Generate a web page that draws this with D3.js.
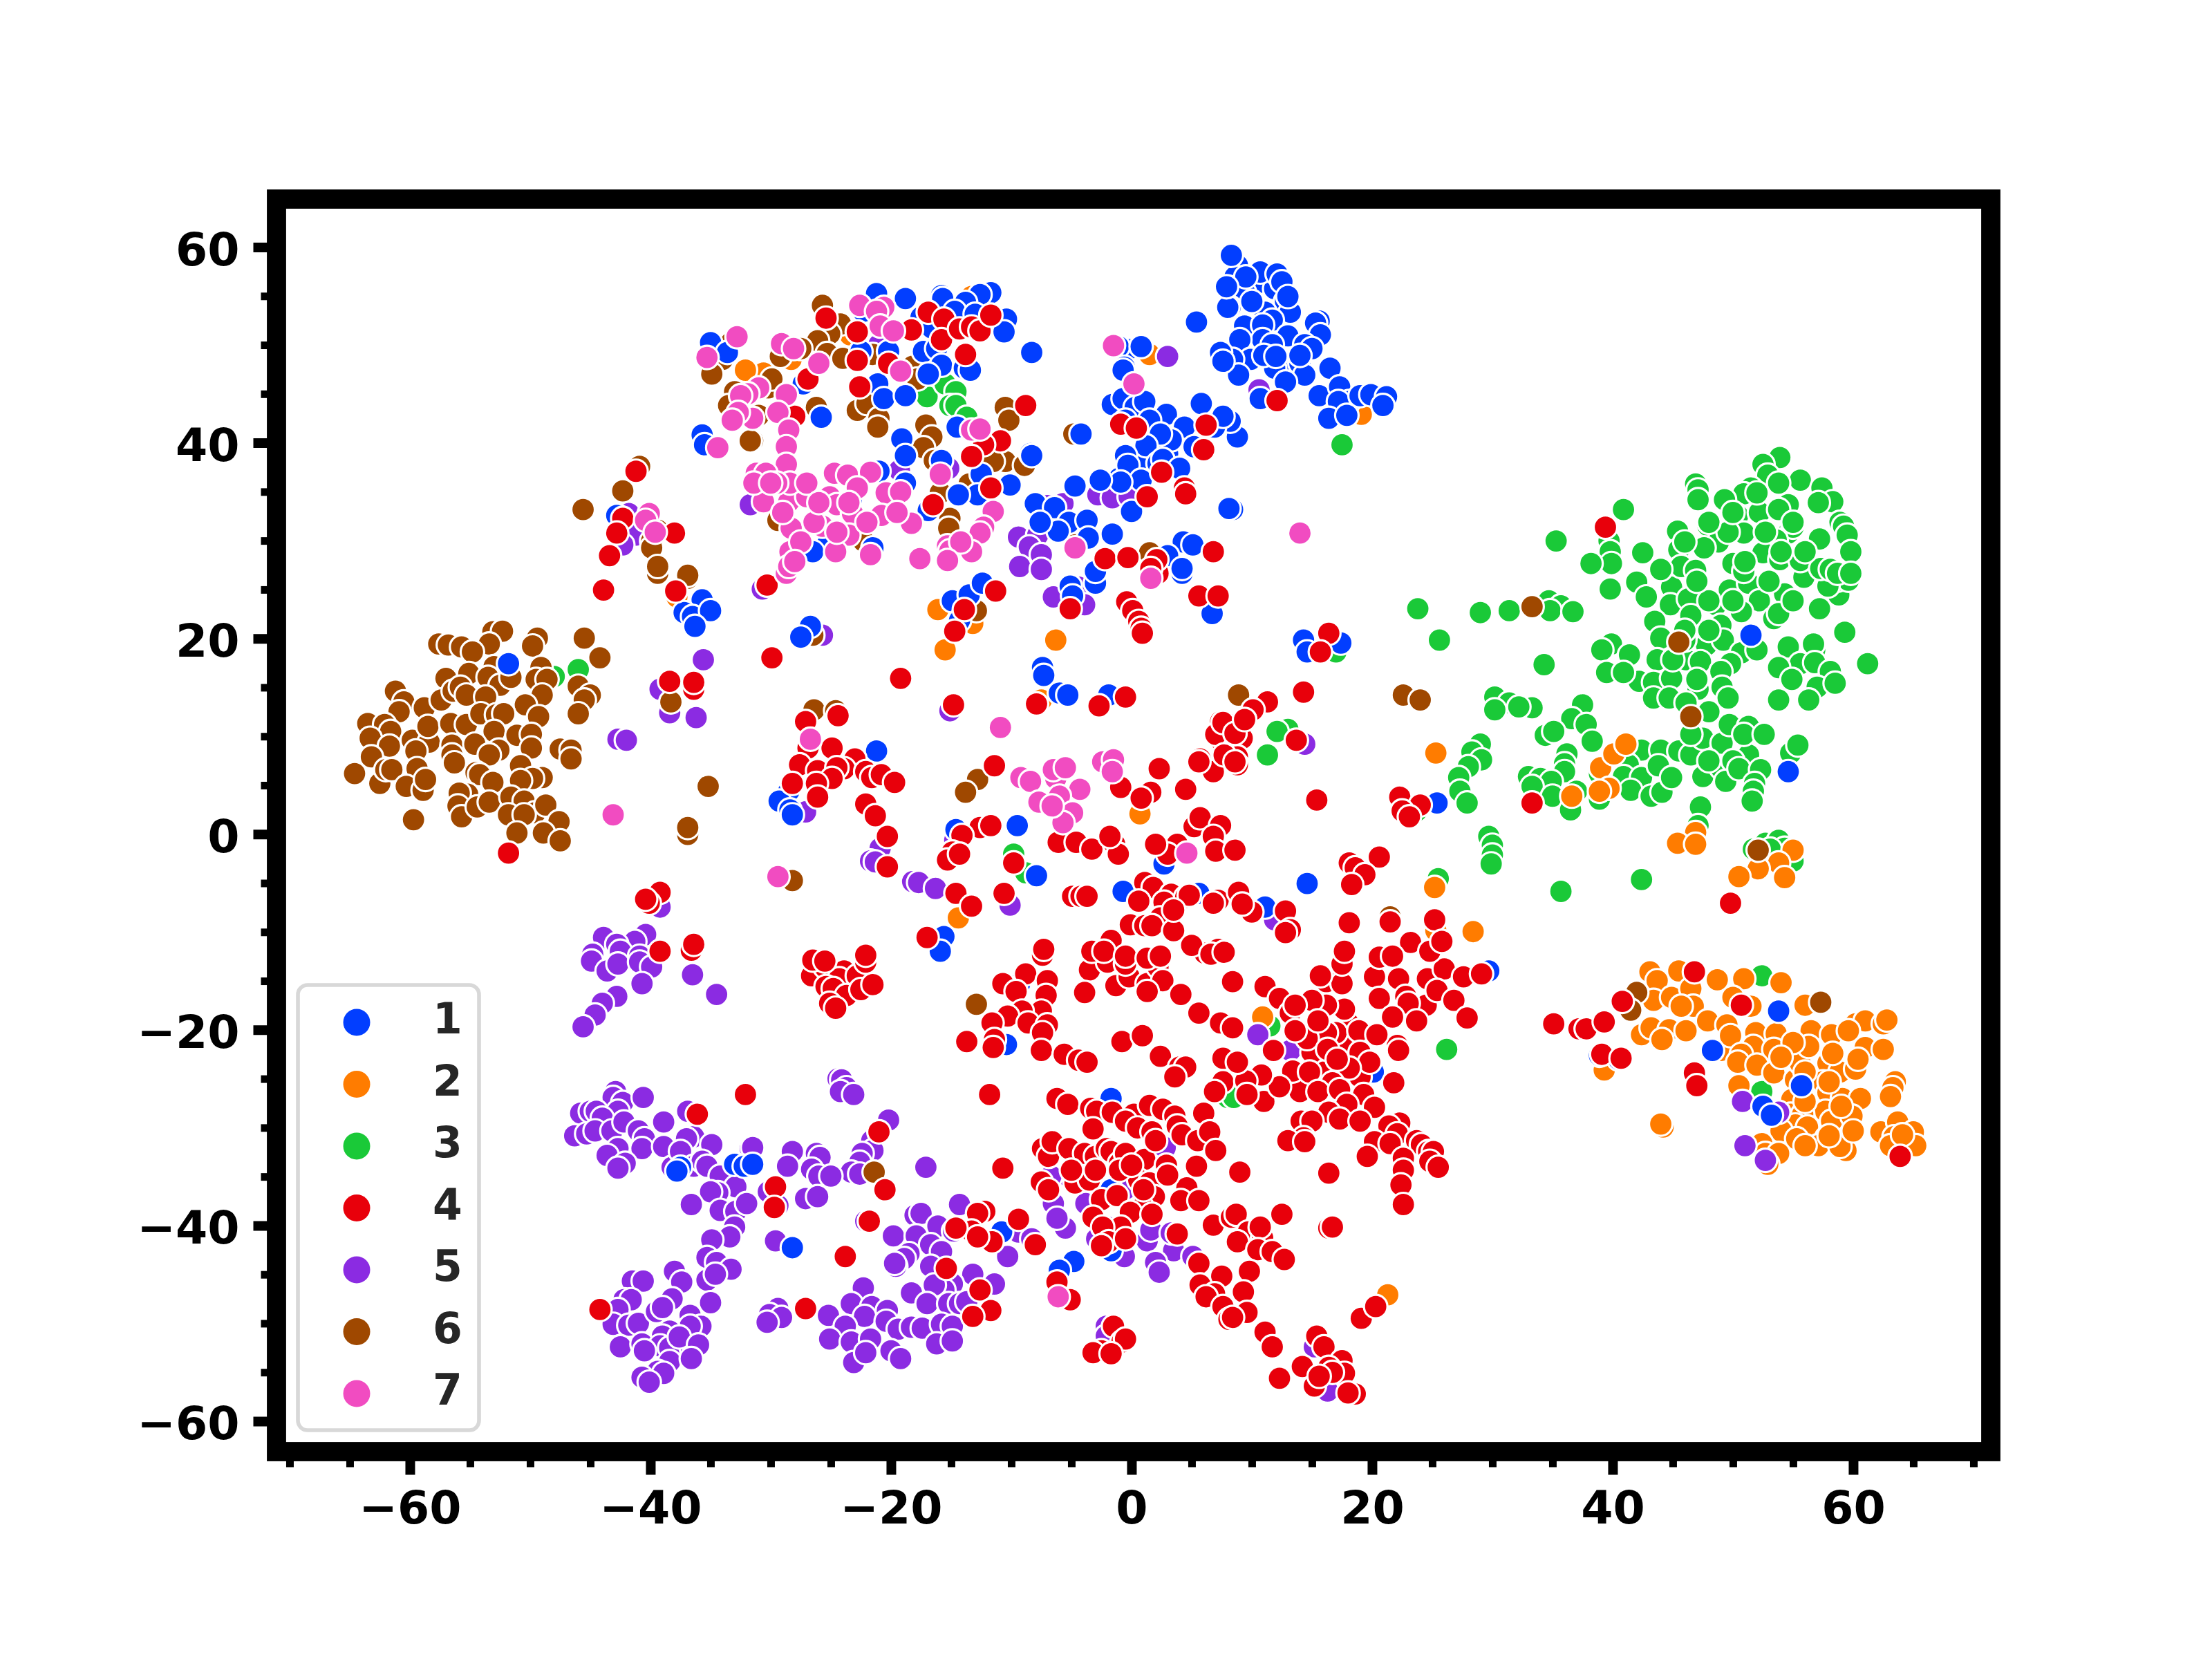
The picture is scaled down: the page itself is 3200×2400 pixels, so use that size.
<!DOCTYPE html>
<html>
<head>
<meta charset="utf-8">
<script src="https://cdnjs.cloudflare.com/ajax/libs/d3/7.8.5/d3.min.js"></script>
<style>
html, body { margin: 0; background: #fff; }
text { font-family: "DejaVu Sans", sans-serif; font-weight: bold; }
</style>
</head>
<body>
<div id="chart"></div>
<script>
const labels = ["1", "2", "3", "4", "5", "6", "7"];
const colors = ["#023eff", "#ff7c00", "#1ac938", "#e8000b", "#8b2be2", "#9f4800", "#f14cc1"];
const xTicks = [-60, -40, -20, 0, 20, 40, 60];
const yTicks = [-60, -40, -20, 0, 20, 40, 60];
const xMinor = d3.range(-70, 71, 5).filter(d => d % 20 !== 0);
const yMinor = d3.range(-60, 61, 5).filter(d => d % 20 !== 0);

const s1 = [[-51.8,17.6],[-35.7,24.1],[-37.2,22.8],[-36.5,22.4],[-35,23],[-36.3,21.4],[-33,-33.4],[-32.2,-33.6],[-37.5,-33.7],[-37.8,-34.1],[-31.5,-33.4],[-28.2,-41.9],[-10.8,-40.3],[-4.8,-43.3],[-6,-44.2],[-9.3,-15],[-10.4,-21.2],[-1.7,-26.7],[-1.7,-36],[-1.7,-42.2],[29.7,-13.7],[20.1,-24],[38.9,-22.3],[40.5,-22.7],[48.3,-21.8],[53.8,-17.8],[52.5,-27.5],[53.2,-28.4],[55.7,-25.4],
[-26.7,21.4],[-27.5,20.3],[-14.9,24],[-13.5,24.6],[-12.4,25.8],[-14.3,22],[-5.1,25.5],[-4.9,24.5],[-3,25.8],[-7.4,17.2],[-7.3,16.4],[-6,14.6],[-5.3,14.4],[-1.9,14.4],[-21.2,8.7],[-28.5,4.6],[-29.3,3.6],[-28.4,2.7],[-28.2,2.2],[-14.6,0.7],[-9.5,1.1],[-7.9,-4],[-0.7,-5.6],[5.6,-5.8],[2.7,-2.8],[6.7,22.7],[4.2,26.8],[-15.6,-10.2],[-15.9,-11.7],
[14.3,20],[14.6,18.8],[17.4,19.7],[25.4,3.4],[14.6,-4.8],[11.1,-7.2],[51.5,20.5],[54.6,6.6],
[8.4,59.1],[8.8,58.2],[8.6,57],[10.5,56.4],[11.9,55.8],[10.7,57.5],[12.1,57.3],[12.5,56.5],[8.2,55.9],[9.4,55.4],[12.8,54.5],[11.1,53.4],[13.2,53.4],[8.2,53.9],[9.4,52],[11.7,52.6],[10.9,52.1],[15.6,52.5],[15.3,52.3],[15.7,51.1],[13,51],[10.9,50.6],[9,50.6],[11.7,50.1],[14.4,50.1],[15,49.7],[9.9,48.6],[12.5,48.3],[11.9,47.7],[8.4,48.6],[8.9,47],[14,48.2],[16.5,47.7],[14.4,47],[12.8,46.3],[10.7,44.6],[15.6,44.9],[17.3,45.8],[18.1,44.3],[17.2,44.3],[19,44.9],[16.4,42.6],[17.9,42.9],[19.9,45],[21.2,44.8],[20.9,43.9],[8.8,40.7],[8.2,42.3],[8.4,33.3],[10,54.5],[9.5,57],[13,55],[14,49],[11,49],[12,48.9],[-1,36.5],[3,39],[1,38],
[-21.2,55.3],[-18.8,54.8],[-15.8,55.1],[-15.7,54.8],[-11.7,55.4],[-12.6,55.2],[-13.8,54.4],[-14.7,53.5],[-13,53.2],[-17.5,52.9],[-22.3,53.5],[-10.4,52.7],[-10.6,51.4],[-16.6,51.8],[-8.3,49.3],[-17.3,49.4],[-16.2,49.7],[-15.8,48],[-13.9,47.7],[-13.4,47.5],[-22.5,49.4],[-20.2,49.4],[-16.9,47.1],[-27.3,46.1],[-21.1,46.1],[-20.6,44.6],[-18.8,44.9],[-25.8,42.7],[-14.5,41.7],[-19.1,40.5],[-18.8,38.8],[-15.8,38.3],[-8.4,39],[-8.3,38.8],[-4.2,41],[0,33.1],[-0.3,49.6],[-1.1,49.9],[0.8,49.9],[-0.6,47.8],[-0.7,47.5],[5.4,52.4],[7.4,49.3],[7.6,48.4],[8,53.9],[7.9,56],[8.3,59.2],[-1.6,44],[-0.7,44.6],[0.3,43.7],[1.1,44.3],[5.8,44.1],[-0.5,42.4],[2.9,43],[1.5,42.4],[4.4,41.7],[3.3,40.4],[5.2,39.7],[2.4,41],[1.2,39.8],[6.9,41.7],[7.6,42.8],[-0.5,38.8],[-0.3,37.8],[2.2,38],[2.6,38.4],[4,37.5],[0.8,36.3],[-0.9,36.1],[-2.6,36.3],[-4.7,35.7],[-8,33.9],[-6.4,33.5],[-5.2,32],[-6.1,31.1],[-3.7,32.2],[-3.6,30.4],[-1.6,30.8],[-7.6,32],[4.3,30],[5.1,29.7],[3,28.6],[4.2,27.3],[-3,27],[-12.5,36.9],[-10.1,35.8],[-12.8,34.8],[-14.4,34.8],[-16.9,33.2],[-21,37.2],[-18.8,36],[-23.3,34.3],[-25.3,29.7],[-26.5,29],[-21.5,29.4],[8.1,33.4],
[-35,50.3],[-33.6,49.3],[-35.7,40.9],[-35.5,39.9],[-42.8,32.7]];

const s2 = [[-37.8,24.4],[-16.1,23.1],[-13.2,21.7],[-15.5,19],[-6.3,20],[-7.5,13.9],[0.7,2.3],[-14.4,-8.3],[10.9,-18.4],[21.3,-46.7],[25.3,-9.6],[28.4,-9.7],[25.3,8.5],[36.6,4.1],[39,7],[40.1,8.4],[41.1,9.4],[39.7,4.9],[38.9,4.6],[46.9,0.4],[45.4,-0.7],[46.9,-0.8],[25.2,-5.2],[55,-1.4],[53.8,-2.7],[52.1,-3.3],[50.5,-4.1],[54.3,-4.2],[-23.4,51.1],[-32,47.5],[-30.6,47.2],[-28.3,48.6],[-13.3,55],[1.5,49.1],[-32.1,47.5],[19.1,43],
[39.5,-23],[39.3,-23.8],[44.2,-29.6],[44,-29.3],[43.1,-13.8],[45.5,-13.7],[48.7,-14.6],[50.9,-14.5],[54,-14.9],[43.7,-14.7],[43.4,-16.7],[44.9,-16.4],[46.5,-15.5],[46.7,-17.3],[45.7,-17.3],[50,-16.4],[51.5,-17.3],[56,-17.2],[42.4,-20.2],[43.2,-19.5],[44.7,-19.7],[44.1,-20.7],[46.1,-19.8],[47.9,-18.8],[49.5,-19.2],[49,-21.8],[49.8,-20.3],[51.9,-20],[53.6,-20.1],[51.7,-21.4],[53.4,-21.7],[50.7,-22.2],[50.4,-23],[52,-23.3],[53.4,-24.1],[50.5,-25.4],[55.2,-24.8],[55.6,-23.1],[56.5,-19.8],[58.2,-20.2],[56.3,-21.4],[57.9,-23.1],[58.9,-24],[60.2,-23.7],[60.2,-19.1],[61,-18.8],[59.6,-19.8],[62.5,-19.1],[62.8,-18.7],[61,-21.5],[62.5,-21.7],[60.4,-22.7],[58.3,-22.1],[57.5,-25],[57.9,-26.1],[59.1,-26.7],[60.6,-26.7],[54.9,-26.8],[54.8,-28.3],[57.7,-28],[58.2,-29],[59.9,-28.5],[55.8,-28.3],[55.2,-29.4],[56.2,-29.6],[54,-30],[57.8,-30.7],[55.3,-30.8],[57.1,-31.5],[59.4,-32],[58.9,-31.6],[63.5,-25],[63.3,-25.6],[63.1,-26.5],[62.3,-30.1],[63.7,-29.1],[63.4,-30.6],[65,-30.1],[65.2,-31.5],[63.1,-31.5],[64.1,-30.4],[52.4,-31.3],[52.7,-32.3],[53.8,-32.3],[52.9,-33.4],
[55,-21],[54,-22.5],[56,-24],[58,-25],[59,-27.5],[56,-27],[60,-30],[58,-30.5],[56,-31.5]];

const s3 = [[-48,16.3],[-46,17],[-9.8,-1.8],[-8.8,-3.7],[8,-26.6],[26.2,-21.7],[11.5,-19.3],[52.4,-14.2],[52.4,-26],[8.5,-26.6],[-17,44.8],[-15.5,46.1],[-14.6,45.3],[-15.1,43.9],[-14.6,43.9],[-13.7,42.7],[17.5,39.9],[17,18.8],[13,10.9],[12.1,10.7],[11.3,8.3],
[23.8,23.2],[25.6,20],[29,22.8],[31.4,23],[34.7,24],[35.7,23.5],[34.8,23],[36.7,22.9],[34.3,17.5],[39.8,25.2],[30.2,14.2],[31.4,13.6],[33.3,13.1],[30.2,12.9],[32.2,13.2],[37.5,13.4],[36.6,12],[37.8,11.4],[34.4,10.3],[35.1,10.7],[38.3,9.7],[29,9.4],[28.3,8.6],[29.1,7.8],[28,7.1],[27.2,6],[27.3,4.6],[27.9,3.4],[23.7,2.6],[36.2,8.4],[36,7.4],[36,6.6],[33,6.1],[34,5.9],[34.9,5.6],[33.3,5.1],[35,4.1],[37,4.6],[36.5,2.7],[38.9,6.4],[38.9,3.8],[42.4,8.8],[41.3,7.3],[40.9,6.1],[42.4,6],[41.5,4.7],[43.2,4.1],[44.1,4.5],[44,8.8],[43.8,7.2],[44.9,6],[45.5,8.7],[46.5,8.3],[47.5,10],[46.5,10.4],[49.1,9.5],[47.5,6.1],[49,7],[48,7.7],[51.3,8.3],[50,7.7],[49.4,5.6],[50.5,6.9],[52.3,6.8],[51.8,5.4],[51.7,4.6],[51.6,3.6],[49.7,11.4],[51.3,11.2],[50.9,10.4],[52.6,10.4],[54.8,8.5],[55.4,9.3],[47.3,3],[47.1,1.1],[42.4,-4.4],[35.7,-5.6],[29.7,0],[30,-0.9],[30,-1.9],[29.9,-2.8],[25.5,-4.3],[51.7,-1.3],[52.7,-0.7],[53.8,-0.4],[54.3,-1.2],[53.1,-1.3],[55,-2.5],
[42,25.9],[44.9,25.4],[42.8,24.4],[44.8,23.6],[46.3,24.2],[48.6,23.6],[49.7,25.1],[51.3,25.8],[54.3,24.7],[52.2,24],[50.7,22.9],[53.4,22.2],[53.8,22.7],[43.5,21.9],[46.5,22.5],[49,21.5],[44,20.2],[47.8,19.5],[49.2,20],[50.7,18.7],[49.8,17.6],[43.7,18],[46.1,18],[47.3,17.8],[39.9,19.6],[39.1,19],[41.4,18.5],[39.5,16.7],[42.2,15.8],[40.9,16.7],[43.4,15.7],[44.9,16.1],[47.1,15],[49,16.8],[49.1,15.2],[43.4,14.1],[44.7,14.1],[46.1,13.6],[48,12.7],[49.6,14.1],[53.8,13.9],[54.6,19.3],[56.8,19],[55.6,17.6],[53.8,17.2],[56.7,19.6],[54.9,16],[56.8,17.7],[58.1,16.8],[57,15.2],[58.5,15.6],[56.3,13.9],[59.3,20.8],[61.2,17.6],[55.9,26.4],[57.2,23.2],[58.8,24.6],[58.7,26.1],[59.6,26.1],[57.9,25.5],
[53.9,38.6],[52.5,37.9],[52.9,36.8],[55.6,36.3],[57.4,35.5],[53.8,36],[51.5,35.5],[50.9,34.9],[46.9,35.9],[47.1,35.3],[47.1,34.3],[49.3,34.3],[54.6,33.8],[58.3,34.1],[57.1,34],[50.4,32.7],[52.2,33],[53.8,33.3],[50.9,30.9],[54.6,30.9],[55,31.5],[47.9,31.7],[45.4,31.1],[40.9,33.3],[39.7,30.1],[35.3,30.1],[39.8,29],[39.9,27.8],[38.2,27.8],[42.5,28.9],[57.2,30.3],[58.9,32],[59.2,31.6],[59.5,30.7],[59.8,29],[48.8,30],[47.6,29.4],[45.5,29.2],[53.6,30.2],[52.5,28.9],[53.9,28.2],[55.6,28.1],[50,27.8],[45.7,27.5],[44,27.2],[46.9,27.1],[57.3,27.3],[58.1,27.2],[58.7,26.8],[59.8,26.8],[50.9,27],[49.6,31],[52.7,31],
[48,24],[50,24],[47,26],[51,28],[46,30],[48,32],[50,33],[52,35],[54,29],[56,29],[55,32],[53,26],[55,24],[48,21],[46,20],[47,16],[45,18],[46,21],[52,19]];

const s4 = [[-51.8,-1.7],[-43.9,25.1],[-37.9,25],[-38.4,15.8],[-36.4,15],[-36.4,15.7],[-39.2,-5.7],[-40.1,-6.8],[-40.4,-6.4],[-39.2,-11.7],[-36.6,-11.6],[-36.4,-11],[-36.1,-28.3],[-44.2,-48.2],[-32.1,-26.3],[-21,-30.1],[-20.5,-36],[-29.6,-35.7],[-29.7,-37.8],[-21.8,-39.2],[-23.8,-42.8],[-15.4,-44],[-12.6,-46.2],[-11.7,-48.3],[-13.2,-48.9],[-27.1,-48.1],[-8,-41.6],[-12.2,-38.2],[-12.8,-38.4],[-9.4,-39],[-13.3,-40.2],[-11.6,-41.3],[-14.6,-39.9],[-12.8,-40.8],[-11.8,-26.3],[-10.7,-33.8],[-6.2,-45.4],[-5.1,-47.2],
[-26.6,-14.2],[-25.5,-13.3],[-23.9,-13.7],[-24.3,-14.5],[-22.8,-14.2],[-22.1,-12.8],[-25.4,-15.3],[-24.8,-15.5],[-23.7,-16.2],[-22.5,-15.6],[-21.5,-15.1],[-25.1,-17],[-24.6,-17.5],
[-10.7,-15],[-8.8,-14],[-7,-14.7],[-9.6,-15.8],[-7.1,-16.2],[-7.5,-17.8],[-9.1,-17.8],[-10.3,-18.3],[-11.6,-19],[-8.6,-19],[-7,-19.2],[-7.4,-20],[-11.4,-20.7],[-13.7,-20.9],[-11.5,-21.5],[-7.5,-21.8],[-5.6,-22.2],[-4.4,-22.8],[-3.7,-23],[-3.5,-13.6],[-3.9,-15.9],[-2,-12.8],[-1.3,-15.2],[-0.2,-14.3],[1.3,-15],[-0.5,-13],[2.2,-13.3],[2.6,-14.7],[1.3,-15.8],[4.1,-16.1],[5.6,-18],[7.4,-19],[7.6,-22.6],[-0.8,-20.9],[0.9,-20.3],[2.4,-22.4],[4,-23.5],[4.5,-23.5],[3.6,-24.5],[7.6,-25],[6.9,-26],
[-6.2,-26.7],[-5.3,-27.3],[-3.4,-27.7],[-2.9,-28],[-1.6,-28.1],[-3.2,-29.8],[0.2,-28.3],[-0.5,-29],[0.5,-29.7],[1.7,-30.1],[1.5,-27.4],[2.6,-27.8],[3.6,-28.5],[6,-28.2],[3.8,-29.5],[4.2,-30.4],[5.5,-31],[6.5,-30.1],[7,-32],[-7.4,-31.8],[-6.9,-32.6],[-6.6,-31.1],[-5.2,-31.8],[-3.9,-32.3],[-3,-32.6],[-2.1,-31.8],[-1.7,-32.1],[-1,-33.3],[-0.5,-32.3],[1.1,-32.9],[2.9,-33.5],[5.4,-33.6],[-7.5,-35.2],[-6.9,-36],[-4.7,-35.3],[-3.5,-35],[-2.5,-37],[-1.2,-36.6],[0.6,-35],[1.5,-35.3],[1.9,-36.7],[4.6,-35.8],[4.1,-37.1],[5.6,-37.1],[0.9,-37.8],[-0.1,-38.3],[1.7,-38.5],[-3.2,-38.8],[-0.9,-39.8],[-2.4,-39.8],[-1.9,-41.3],[-0.5,-41],[-2.5,-41.7],[3.8,-40.5],[6.8,-39.6],[8.3,-38.8],[5.6,-43.5],[7.5,-44.8],[5.7,-45.7],[6.9,-46.6],[6.2,-46.9],[7.6,-47.9],[8.1,-49.2],[-1.5,-49.9],[-0.8,-51.5],[-0.5,-51.2],[-2.5,-52.4],[-3.2,-52.6],[-1.7,-52.7],
[-1,-34],[0,-33.5],[3,-34.5],[2,-31],[1,-36],[-3,-34],[-5,-34],[18,-21],[16,-24],[15,-22],[18,-19],[19,-24.5],[17,-20],[14,-26],[11,-27],
[11.1,-15.3],[12.3,-16.5],[13.2,-18],[8.4,-14.8],[16.2,-14.8],[17.5,-15],[15.7,-14.2],[17.5,-13],[20.2,-14.3],[22.2,-14.5],[24.6,-14.5],[26,-13.5],[27.6,-14.3],[29.1,-14],[20.6,-16.5],[22.8,-16.3],[24.5,-17.2],[25.4,-15.7],[23,-17],[26.8,-16.7],[27.9,-18.5],[21.7,-18.4],[23.7,-18.8],[17.7,-17.6],[16.2,-17.2],[15,-16.7],[13.6,-17.2],[22.1,-21.3],[22.2,-21.8],[18.9,-19.8],[20.4,-20.2],[16.2,-20],[14.6,-20.6],[13.6,-19.8],[15.5,-18.8],[11.8,-21.8],[8.4,-19.5],[19,-22],[19.8,-23],[18.1,-23.6],[21.8,-25.1],[13.4,-23.9],[14.8,-24],[16.3,-21.7],[17.1,-22.7],[12.3,-25.5],[10.8,-24.3],[9.5,-24.9],[8.8,-23],[9.6,-26.3],[16.7,-25.1],[15.5,-26],[17.3,-25.8],[19.3,-26.3],[20.2,-27.6],[17.9,-27.3],[16.4,-28.1],[17.3,-28.8],[19,-29],[14.1,-29],[15,-29],[14.3,-30.7],[13,-31],[14.4,-31.1],[22.3,-29.2],[21.4,-29.5],[22.1,-30.3],[20.2,-31.1],[21.5,-31.3],[23.7,-31],[24.1,-31.4],[24.7,-32.1],[25.1,-32.1],[19.6,-32.6],[22.6,-32.8],[24.8,-33.1],[25.5,-33.7],[22.6,-34],[22.4,-35.5],[22.6,-37.5],[9,-34.2],[16.4,-34.3],[16.4,-39.9],[16.7,-39.8],[12.5,-38.5],[8.7,-38.5],[9.7,-40.3],[10.9,-40.9],[10.7,-39.8],[8.8,-41.3],[10.5,-42.1],[11.7,-42.3],[12.7,-43.1],[9.8,-44.3],[9.3,-46.4],[9.6,-48.5],[8.4,-49],[11.1,-50.5],[11.7,-52],[12.3,-55.2],[15.4,-50.9],[16,-52],[17.5,-53.4],[14.2,-54],[16.4,-54.1],[17.7,-54.7],[15.2,-56],[16.7,-54.6],[18.6,-56.8],[18,-56.7],[15.6,-55],[19.1,-49.1],[20.3,-47.9],
[35.1,-19.1],[37.2,-19.6],[37.8,-19.6],[39.3,-18.9],[39.1,-22.2],[40.7,-22.6],[46.8,-24.1],[47,-25.4],[40.8,-16.8],[46.8,-13.8],[50.7,-17.2],[63.9,-32.6],
[-30.3,25.6],[-29.9,18.2],[-19.2,16.1],[-24.4,12.3],[-27.1,11.7],[-26.9,9],[-24.9,9],[-27.6,7.3],[-26.1,6.7],[-23,7.9],[-23.9,6.9],[-24.5,7],[-24.9,5.9],[-22.1,6.6],[-21.6,6],[-20.8,6.3],[-19.7,5.5],[-28.2,5.4],[-26.2,5.4],[-26.1,4],[-22.1,3.3],[-21.3,2.1],[-20.3,0],[-20.3,-3.1],[-14.8,13.4],[-7.9,13.5],[-0.5,14.2],[-2.7,13.3],[-11.4,7.2],[-0.9,5],[1.6,4.5],[0.8,3.9],[2.3,6.9],[4.5,4.8],[5.7,7.9],[6.8,6.6],[-11.3,25],[-13.9,23.1],[-14.7,20.9],[-5.1,23.2],[-0.4,23.9],[0.1,23],[0.6,21.9],[0.8,21.2],[0.9,20.7],[5.6,24.5],[7.2,24.5],[2.2,26.8],[7.4,11.7],[7.5,9.7],[7,10.4],[-6.1,-0.6],[-4.6,-0.6],[-3.3,-1.3],[-1.4,-0.8],[-1.1,-1.8],[-1.8,0],[-12.6,0.9],[-11.7,1.1],[-14.1,0.1],[-14.9,-1.6],[-15.3,-2.4],[-14.3,-1.8],[-9.8,-2.7],[-14.6,-5.8],[-13.3,-7.1],[-10.6,-5.8],[-4.9,-6.1],[-4.2,-6.1],[-3.7,-6.1],[1.1,-4.7],[1.8,-5.2],[3.3,-5.9],[0.6,-6.6],[2.7,-6.7],[4.5,-6.2],[7.2,-6.5],[2.4,-8.3],[-0.1,-9],[1.1,-9.1],[1.7,-9.1],[3.5,-9.6],[-1.7,-10.6],[-3.3,-11.7],[-2.3,-11.7],[-0.5,-12.2],[1.3,-12.4],[2.4,-12.2],[-7.4,-12.1],[-7.3,-11.5],[6.1,-11.9],[7.2,-11.5],[-17,-10.3],[-22.1,-12.1],[-26.5,-12.6],[-25.5,-12.7],[5.2,1],[5.7,1.9],[3.8,-0.8],[3,-1.8],[2,-0.8],[7.4,1.1],[6.8,0],[7,-1.5],
[14.3,14.7],[11.3,13.7],[10.1,12.9],[9.4,11.9],[9.2,10],[8.6,11.4],[8.8,8.1],[8.8,7.3],[13.7,9.8],[15.4,3.7],[8.6,-1.4],[20.6,-2.1],[18.1,-2.7],[18.6,-3.2],[19.4,-3.9],[18.3,-4.9],[8.9,-5.7],[10,-7.7],[9.2,-6.9],[12.8,-7.6],[13.2,-9.5],[12.8,-9.8],[18.1,-8.8],[21.5,-8.7],[25.2,-8.5],[23.2,-10.8],[24.8,-11.7],[25.8,-10.7],[17.7,-11.7],[20.6,-12.3],[21.7,-12.2],[16.4,20.7],[15.7,18.8],[22.3,4],[24,3.2],[22.5,2.6],[23.1,2],[33.3,3.4],[49.8,-6.8],
[7.6,11.6],[8.6,10.5],[5.6,7.6],[7.7,8.3],[8.6,7.6],[9.4,11.9],[4.8,-6],[6.8,-6.8],[3.5,-7.5],[5,-11.1],[6.6,-12],[7.7,-11.8],
[-25.4,52.8],[-22.8,51.4],[-16.9,53.4],[-18.3,51.6],[-15.6,52.7],[-15.8,50.6],[-14.3,51.7],[-13.3,51.9],[-12.6,51.5],[-11.7,53.1],[-13.8,49.1],[-22.6,45.8],[-22.8,48.5],[-26.9,46.6],[-28,42.8],[-20.2,48.2],[-8.8,43.9],[-10.9,40.3],[-12.3,39.9],[-13.3,38.7],[-16.5,33.8],[-11.7,35.5],[-0.9,42],[0.4,41.6],[6.2,41.9],[6,39.4],[2.5,37.1],[4.4,35.5],[4.5,34.9],[1.3,34.6],[-2.2,28.3],[-0.3,28.4],[2.1,28.2],[6.8,29],[1.6,27.3],[12.1,44.4],[39.4,31.5],
[-41.2,37.2],[-42.3,32.4],[-42.8,30.9],[-38,30.9],[-43.4,28.6]];

const s5 = [[-35.6,18],[-39.2,15],[-38.4,12.6],[-36.2,12.1],[-42.7,9.9],[-42,9.8],[-39.2,-7.2],[-43.9,-10.3],[-40.4,-10],[-41.3,-10.7],[-44.8,-12],[-42.8,-11],[-42.5,-11.7],[-40.9,-12.2],
[-44.9,-12.7],[-43.6,-13.7],[-42.7,-13],[-40.9,-12.8],[-39.9,-13.3],[-40.7,-15],[-42.8,-16.3],[-44,-17],[-44.6,-18.2],[-45.6,-19.4],[-36.5,-14.1],[-34.5,-16.1],
[-42.9,-26],[-43.1,-26.6],[-42.3,-27.1],[-40.6,-26.6],[-45.8,-28.2],[-45,-28],[-44.5,-28],[-42.7,-28],[-44,-28.7],[-46.3,-30.5],[-45.3,-30.3],[-44.6,-30],[-43.2,-30],[-42.2,-29.1],[-41,-30],[-40.5,-30.8],[-40.7,-31.8],[-42.7,-31.8],[-43.6,-32.5],[-42.1,-33.3],[-42.7,-33.8],[-38.9,-29.1],[-38.9,-31.6],[-36.9,-28],[-38.2,-33.7],[-36.4,-30.6],[-37,-30.8],[-34.9,-31.4],[-37.5,-32.1],[-36.4,-33.6],[-35.7,-33.1],[-35.3,-33.6],[-31.7,-31.8],[-34.2,-34.6],[-32.9,-35.7],[-34.4,-36.3],[-35,-36.2],[-36.6,-37.5],[-34.2,-38.1],[-32.9,-38.2],[-33,-39.8],[-33.4,-40.8],[-34.9,-41.1],[-35.3,-42.9],[-34.5,-43.4],[-33.3,-44.1],[-35.3,-45.2],[-34.6,-44.6],[-35,-47.5],
[-41.5,-45.3],[-40.6,-45.3],[-38,-44.3],[-37.4,-45.4],[-38.2,-47.1],[-42.2,-47.2],[-41.6,-47.2],[-42.7,-48.2],[-43.1,-49.7],[-41.8,-49.8],[-41,-49.6],[-39.5,-48.4],[-39,-48],[-36.7,-48.8],[-35.8,-49.9],[-36.7,-49.9],[-38.4,-50.4],[-39,-50.9],[-42.5,-52],[-40.7,-51.7],[-39.2,-51.9],[-38.4,-52.1],[-36.6,-52.1],[-37.6,-51],[-36,-51.8],[-40.5,-52.4],[-38.4,-53.5],[-36.6,-53.2],[-39.4,-54.5],[-40.7,-55.1],[-38.9,-54.7],[-40.1,-55.6],
[-24.4,-24.7],[-24.1,-24.8],[-23.7,-25.6],[-24.2,-26],[-23.1,-26.3],[-20.2,-28.9],[-21.6,-31],[-21.5,-32],[-22.4,-32.3],[-22.6,-33.2],[-23.3,-34.2],[-22.6,-34.4],[-17.1,-33.7],[-31.5,-31.7],[-28.2,-32.1],[-26.2,-32.3],[-25.9,-32.7],[-28.6,-33.6],[-26.6,-33.9],[-26,-34.6],[-25,-34.6],[-27.1,-36.9],[-26.1,-36.7],[-30.2,-36.2],[-29.4,-37.6],[-32,-37.4],[-29.6,-41.2],[-22.1,-39.2],
[-14.3,-37.5],[-18,-38.6],[-17.5,-38.4],[-16.1,-39.7],[-14.8,-40.2],[-19.8,-40.7],[-17.9,-40.7],[-16.7,-41.6],[-15.8,-42.3],[-18.5,-42.5],[-18.9,-43],[-19.6,-43.8],[-19.7,-43.5],[-16.7,-43.8],[-13.2,-44.6],[-11.4,-45.6],[-14.9,-45.6],[-15.6,-46.2],[-16.4,-45.7],[-18.3,-46.5],[-17,-47.6],[-15.2,-47.6],[-14.3,-47.6],[-13.7,-47.4],
[-22.3,-46],[-23.3,-47.6],[-21.6,-47.9],[-20.3,-48.3],[-22.2,-48.9],[-25.2,-48.8],[-20.4,-49.4],[-23.8,-49.9],[-19.4,-50.2],[-18.3,-50],[-17.4,-50.1],[-15.8,-49.7],[-14.9,-49.9],[-25.1,-51.2],[-23.3,-51.5],[-21.7,-51.2],[-20,-52.4],[-19.2,-53.2],[-16.2,-51.7],[-14.9,-51.4],[-23.1,-53.6],[-22.1,-52.6],[-29.4,-48.1],[-30.1,-48.7],[-29.1,-49],[-30.3,-49.5],
[-6.5,-37.4],[-5.5,-39.9],[-6.2,-38.9],[-5.1,-34.8],[-6.7,-34.6],[-3.8,-37.4],[-0.6,-42.8],[2.8,-31.7],[1.3,-41.2],[3.5,-42.2],[2,-43.4],[2.3,-44.4],[5.1,-42.8],[-2,-39.8],[-2.9,-41],[-0.5,-35.9],[1.6,-40.1],[3.3,-40.4],[-2.1,-49.9],[-2.1,-50.9],[-9.4,-40.3],[-8.3,-41],[-10.3,-42.8],[16.3,-56.5],[15.2,-52],[10.5,-20.2],[13.2,-21.8],[50.8,-27],[53.8,-28.1],[51,-31.5],[52.7,-33],
[-30.7,25.2],[-25.7,20.5],[-27.1,2.5],[-20.9,-1.2],[-21.7,-2.5],[-21.3,-2.6],[-15.1,12.8],[-14.7,-0.4],[-18.2,-4.6],[-17.7,-4.7],[-16.3,-5.3],[-10.1,-7],[-4.4,25.4],[-6.5,24.4],[-3.9,23.6],[14.4,9.4],[11.9,-8.5],
[-21,50.1],[-19.3,37.3],[-15.2,37.5],[3,48.9],[-5.7,33.9],[-7,33.7],[-2.8,34.8],[-1.6,34.5],[-0.2,34.6],[-31.6,34],[-9.4,30.5],[-7.8,30.7],[-8.5,29.5],[-7.5,28.7],[-9.3,27.5],[-7.5,27.2],[10.6,45.5],[-41.8,32.9],[-41.2,30.7],[-42.3,29.7],[-31.7,33.8]];

const s6 = [[-53.1,20.85],[-52.3,20.9],[-53.4,19.6],[-49.4,20.2],[-49.8,19.4],[-57.6,19.6],[-56.8,19.5],[-55.7,19.3],[-54.8,18.8],[-45.5,20.2],[-44.2,18.2],[-57,16.1],[-55.1,16.6],[-53,17.3],[-53.5,16.2],[-52.5,15.4],[-51.6,16.2],[-49.1,17.2],[-49.5,16],[-48.6,16],[-49,14.4],[-61.2,14.8],[-60.5,13.7],[-60.9,12.7],[-58.8,13.1],[-57.4,13.9],[-56.4,14.8],[-55.8,15.2],[-55.3,14.4],[-53.7,14.2],[-50.4,13.4],[-49.3,12.2],[-46,15.3],[-45,14.4],[-45.5,13.9],[-46,12.5],[-63.5,11.5],[-62.1,11.4],[-61.6,10.7],[-63.3,10],[-61.7,9.2],[-59.8,9.8],[-58.4,9.6],[-58.5,11.2],[-56.6,11.5],[-55.3,11.4],[-54.1,12.5],[-52.8,12.4],[-52.2,12.5],[-53,10.7],[-51.1,10.3],[-49.9,10.4],[-49.9,9],[-56.5,9.3],[-54.6,9.4],[-56.5,8.3],[-56.3,7.5],[-52.6,8.8],[-53.4,8.3],[-59.5,8.7],[-63.2,8.1],[-64.6,6.4],[-62.5,5.4],[-62,6.8],[-61.5,6.8],[-59.4,6.9],[-60.3,5.1],[-58.9,4.7],[-58.7,5.8],[-50.8,7.2],[-49,6],[-49.8,5.9],[-50.8,5.7],[-54.5,6.5],[-54.2,6.3],[-53.1,5.5],[-55.2,4.3],[-55.9,4.4],[-56,3.1],[-55.7,2],[-54.4,3],[-53.4,3.5],[-51.6,4],[-50.5,3.6],[-49.6,2.4],[-51.8,2.2],[-50.5,2.2],[-48.7,3.2],[-47.6,1.5],[-48.9,0.35],[-51.1,0.35],[-47.5,-0.45],[-59.7,1.7],[-47.5,8.9],[-46.6,8.8],[-46.6,7.9],
[-36.9,26.3],[-39.4,26.8],[-38.3,13.7],[-35.2,5.1],[-36.9,0.2],[-36.9,0.9],[-21.4,-34.2],[-12.9,-17.1],[42,-15.9],[41.5,-17.7],[57.3,-16.9],[-26.5,20.5],[-26.4,12.9],[-24.6,12.8],[-12.9,23],[-12.8,5.8],[-13.8,4.5],[-28.2,-4.5],[8.9,14.4],[21.5,-8.2],[22.6,14.4],[24,13.9],[33.3,23.4],[45.5,19.8],[46.5,12.2],[52.1,-1.4],
[-25.7,54.1],[-25.4,52.7],[-24.2,52.2],[-25.1,51.2],[-26.1,50.5],[-25.3,49.2],[-24,48.7],[-21.5,49.1],[-27.5,49.7],[-29.2,48.9],[-30.2,45.7],[-29.9,46.6],[-26.2,43.7],[-22.8,43.4],[-21.7,45.6],[-22,44.1],[-21,42.6],[-21.1,41.7],[-18.2,47.9],[-17.8,46.6],[-17.1,41.9],[-16.6,40.7],[-17.3,39.6],[-16.4,38.3],[-10.5,43.7],[-10.2,42.4],[-10.5,38.2],[-11.5,38.2],[-8.9,37.8],[-4.8,41],[-31.5,40.3],[-15.9,35],[-15.1,32.4],[-15.2,31.4],[-29.4,32.2],[-22.3,30.1],[-13.5,35.9],[-31,42.9],[-4.7,29.7],[1.5,28.9],
[-33.3,50.3],[-34,48.6],[-34.9,47.1],[-33,45.3],[-33.5,43.9],[-31.7,40.3],[-40.9,37.7],[-42.3,35.2],[-45.6,33.3],[-39.4,31.2],[-39.9,30.1],[-39.9,29.4],[-39.4,27.5],[-36.9,26.6]];

const s7 = [[-43.1,2.2],[-29.4,-4.1],[-6.1,-46.9],[14,30.9],[-26.7,9.9],[-10.9,11.1],[-9.2,6],[-8.4,5.6],[-7.7,3.5],[-6.3,5.9],[-6.5,6.8],[-5.5,7],[-4.3,4.8],[-6,4.1],[-4.9,2.4],[-5.7,1.4],[-6.6,3.1],[-2.4,7.6],[-1.5,7.8],[-1.6,6.6],[-28.7,26.8],[1.6,26.3],[4.6,-1.7],
[-22.6,54.1],[-20.6,53.9],[-21.2,53.5],[-20.9,52],[-19.8,51.5],[-29.1,50.2],[-28.1,49.7],[-26,48.2],[-19.2,47.4],[-31,45.7],[-28.7,45],[-29.4,43.2],[-31.9,45.1],[-31.5,42.6],[-28.5,41.4],[-28.7,39.7],[-28.7,37.9],[-31.2,37],[-30.4,37],[-27.6,35.6],[-24.7,37],[-23.6,36.8],[-21.7,37.1],[-22.8,35.5],[-25.1,34.6],[-24.5,33.8],[-23.2,32.9],[-20.4,35],[-19.2,35.1],[-20.8,32.7],[-18.3,31.9],[-15.9,36.9],[-13.3,41.4],[-12.6,41.5],[-11.5,33.1],[-12.3,31.5],[-12.6,30.9],[-30.6,34.1],[-28.5,34.1],[-27,34.6],[-28.3,31.4],[-25.7,31.6],[-26.4,32],[-23.5,30.7],[-24.6,29],[-28.4,29],[-28.5,27.5],[-21.7,28.7],[-17.6,28.3],[-15.3,29.6],[-15.1,29.1],[-13.3,29],[-14.2,30],[-15.3,28.1],[0.2,46.1],[-1.5,50],[-28.4,36],[-4.7,29.4],
[-32.8,50.9],[-35.3,48.8],[-32.5,44.9],[-32.7,43.2],[-33.2,42.4],[-34.4,39.6],[-31.4,36],[-40.1,32.9],[-40.4,32.2],[-39.6,31],
[-27,36],[-29.5,36],[-26,34],[-29,33],[-27.5,30],[-28,28],[-22,32],[-23.5,34],[-24.5,31],[-19.5,33],[-30,36]];

const series = [s1, s2, s3, s4, s5, s6, s7];
const drawOrder = [2, 1, 4, 5, 0, 3, 6];

const width = 3200, height = 2400;
const svg = d3.select("#chart").append("svg")
	.attr("width", width)
	.attr("height", height)
	.style("display", "block");

const x = d3.scaleLinear().domain([-71.09, 71.44]).range([400, 2880]);
const y = d3.scaleLinear().domain([-63.11, 64.91]).range([2100, 288]);
// y values above were read against a grid about 3 px off, correct them here
const yRead = v => 1.00325 * v - 0.23;

function styleAxis(g, w) {
	g.select(".domain").remove();
	g.selectAll(".tick line").attr("stroke", "#000").attr("stroke-width", w);
}
svg.append("g").attr("transform", "translate(0,2100)")
	.call(d3.axisBottom(x).tickValues(xMinor).tickSize(22.5).tickFormat(""))
	.call(styleAxis, 11);
svg.append("g").attr("transform", "translate(400,0)")
	.call(d3.axisLeft(y).tickValues(yMinor).tickSize(22.5).tickFormat(""))
	.call(styleAxis, 11);

svg.append("g").attr("transform", "translate(0,2100)")
	.call(d3.axisBottom(x).tickValues(xTicks).tickSize(33.5).tickPadding(23.5))
	.call(styleAxis, 14);
const yAxis = svg.append("g").attr("transform", "translate(400,0)")
	.call(d3.axisLeft(y).tickValues(yTicks).tickSize(33.5).tickPadding(20))
	.call(styleAxis, 14);
svg.selectAll("g .tick text")
	.attr("font-family", "DejaVu Sans")
	.attr("font-weight", "bold")
	.attr("font-size", 66.5)
	.attr("fill", "#000");
yAxis.selectAll(".tick text").attr("dy", "0.385em");

// points
const plot = svg.append("g");
drawOrder.forEach(i => {
	plot.selectAll(null).data(series[i]).enter().append("circle")
		.attr("cx", d => x(d[0]))
		.attr("cy", d => y(yRead(d[1])))
		.attr("r", 17)
		.attr("fill", colors[i])
		.attr("stroke", "#fff")
		.attr("stroke-width", 3.2);
});

// spines
svg.append("rect")
	.attr("x", 400).attr("y", 288)
	.attr("width", 2480).attr("height", 1812)
	.attr("fill", "none")
	.attr("stroke", "#000")
	.attr("stroke-width", 27.8);

// legend
const legend = svg.append("g");
legend.append("rect")
	.attr("x", 431).attr("y", 1425)
	.attr("width", 262).attr("height", 644)
	.attr("rx", 14)
	.attr("fill", "#fff")
	.attr("fill-opacity", 0.8)
	.attr("stroke", "#d8d8d8")
	.attr("stroke-width", 5.6);
const legendY = d3.scalePoint().domain(labels).range([1479, 2016]);
const rows = legend.selectAll(null).data(labels).enter().append("g")
	.attr("transform", d => "translate(0," + legendY(d) + ")");
rows.append("circle")
	.attr("cx", 516)
	.attr("r", 19.5)
	.attr("fill", (d, i) => colors[i]);
rows.append("text")
	.attr("x", 626)
	.attr("y", 16)
	.attr("font-size", 61.5)
	.attr("fill", "#262626")
	.text(d => d);
</script>
</body>
</html>
